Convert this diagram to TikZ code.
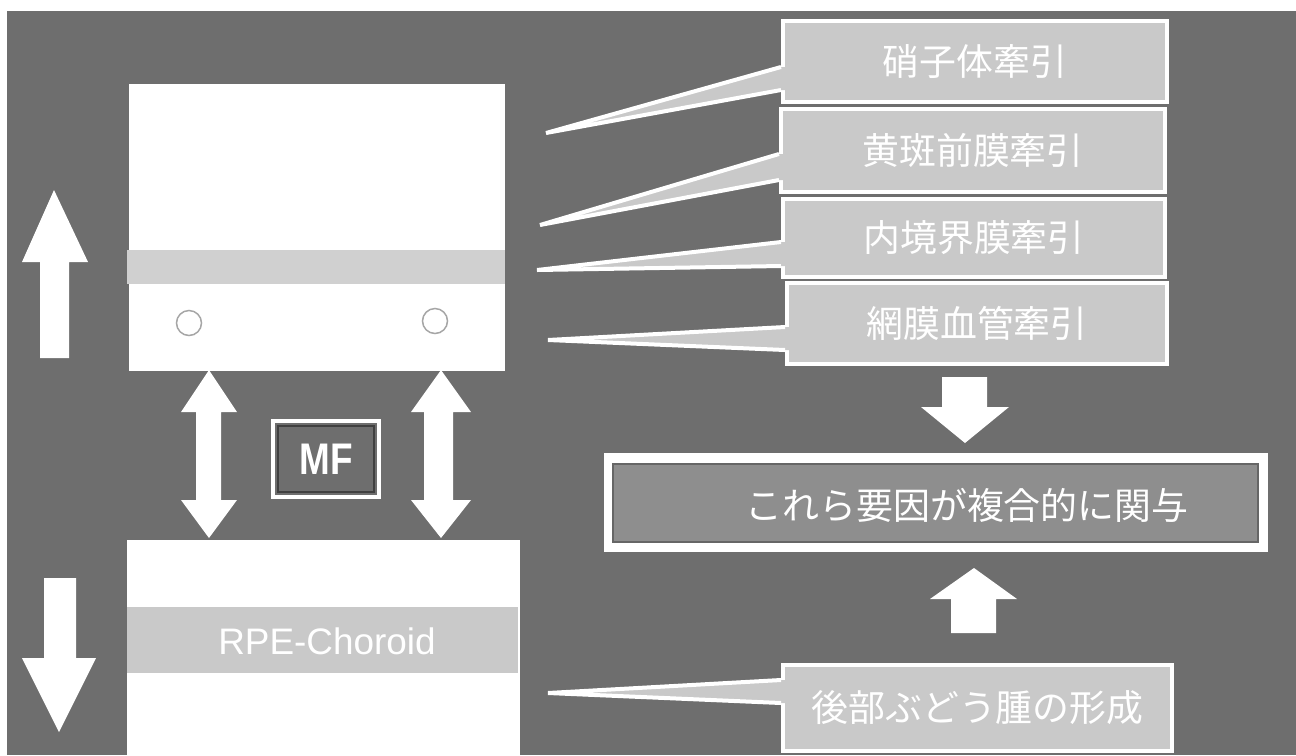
\documentclass[tikz,border=0pt]{standalone}
\usepackage{fontspec}
\setmainfont{Liberation Sans}
\newfontfamily\jp{Noto Sans CJK JP}
\definecolor{bgdark}{HTML}{6E6E6E}
\definecolor{boxlight}{HTML}{C9C9C9}
\definecolor{bandgrey}{HTML}{D0D0D0}
\definecolor{midgrey}{HTML}{8E8E8E}
\begin{document}
\begin{tikzpicture}[x=0.02cm,y=-0.02cm,
  blockarrow/.style={fill=white},
  cbox/.style={fill=boxlight,draw=white,line width=0.08cm},
  pointer/.style={white,line width=0.08cm,line join=miter},
  jptext/.style={text=white,font=\jp\fontsize{21}{25}\selectfont,inner sep=0pt},
  latext/.style={text=white,font=\fontsize{21}{25}\selectfont,inner sep=0pt}]
\useasboundingbox (0,0) rectangle (1296,755);
\fill[white] (0,0) rectangle (1296,755);
\fill[bgdark] (7,11) rectangle (1296,755);

% upper tissue block
\fill[white] (129,84) rectangle (505,371);
\fill[bandgrey] (127,250) rectangle (505,284);
\node[circle,draw=gray!70,fill=white,line width=0.03cm,minimum size=0.5cm,inner sep=0pt] (c1) at (189,323) {};
\node[circle,draw=gray!70,fill=white,line width=0.03cm,minimum size=0.5cm,inner sep=0pt] (c2) at (435,321) {};

% lower tissue block
\fill[white] (127,540) rectangle (520,755);
\fill[boxlight] (127,607) rectangle (518,673);
\node[latext] (rpe) at (327,641) {RPE-Choroid};

% left arrows
\fill[blockarrow] (40,358) -- (40,262) -- (22,262) -- (54,190) -- (88,262) -- (69,262) -- (69,358) -- cycle;
\fill[blockarrow] (44,578) -- (76,578) -- (76,658) -- (96,658) -- (59,732) -- (22,658) -- (44,658) -- cycle;

% double arrows
\fill[blockarrow] (209,370) -- (237,412) -- (221,412) -- (221,500) -- (237,500) -- (209,538) -- (181,500) -- (196,500) -- (196,412) -- (181,412) -- cycle;
\fill[blockarrow] (441,370) -- (471,412) -- (453,412) -- (453,500) -- (471,500) -- (441,538) -- (411,500) -- (424,500) -- (424,412) -- (411,412) -- cycle;

% MF
\draw[white,line width=0.07cm] (273,421) rectangle (379,497);
\draw[black!75,line width=0.03cm] (278,426) rectangle (374,492);
\node[latext,font=\bfseries\fontsize{21}{25}\selectfont] (mf) at (326,459) {\scalebox{1}[1.2]{MF}};

% callout boxes
\node[cbox,minimum width=384*0.02cm,minimum height=81*0.02cm,inner sep=0pt] (v1) at (975,61.5) {};
\node[cbox,minimum width=384*0.02cm,minimum height=83*0.02cm,inner sep=0pt] (v2) at (973,150.5) {};
\node[cbox,minimum width=382*0.02cm,minimum height=78*0.02cm,inner sep=0pt] (v3) at (974,238) {};
\node[cbox,minimum width=380*0.02cm,minimum height=81*0.02cm,inner sep=0pt] (v4) at (977,323.5) {};
\node[cbox,minimum width=389*0.02cm,minimum height=86*0.02cm,inner sep=0pt] (v5) at (977.5,708) {};

\coordinate (t1) at (546,133);
\coordinate (t2) at (540,225);
\coordinate (t3) at (537,270);
\coordinate (t4) at (548,340);
\coordinate (t5) at (548,693);

% pointers
\foreach \b/\t/\ya/\yb in {v1/t1/67/90, v2/t2/154/180, v3/t3/242/266, v4/t4/327/350, v5/t5/680/703}{
  \fill[boxlight] ([xshift=0.1cm]\b.west |- 0,\ya) -- (\b.west |- 0,\ya) -- (\t) -- (\b.west |- 0,\yb) -- ([xshift=0.1cm]\b.west |- 0,\yb) -- cycle;
  \draw[pointer] (\b.west |- 0,\ya) -- (\t) -- (\b.west |- 0,\yb);
}

\node[jptext] (l1) at (v1) {硝子体牽引};
\node[jptext] (l2) at (v2) {黄斑前膜牽引};
\node[jptext] (l3) at (v3) {内境界膜牽引};
\node[jptext] (l4) at (v4) {網膜血管牽引};
\node[jptext] (l5) at (v5) {後部ぶどう腫の形成};

% result box
\fill[white] (604,453) rectangle (1268,552);
\draw[black!60,fill=midgrey,line width=0.03cm] (613,464) rectangle (1258,542);
\node[jptext] (res) at (967,505) {これら要因が複合的に関与};

% right arrows
\fill[blockarrow] (942,377) -- (987,377) -- (987,407) -- (1009,407) -- (965,443) -- (921,407) -- (942,407) -- cycle;
\fill[blockarrow] (951,633) -- (951,599) -- (930,599) -- (974,568) -- (1017,599) -- (996,599) -- (996,633) -- cycle;
\end{tikzpicture}
\end{document}
